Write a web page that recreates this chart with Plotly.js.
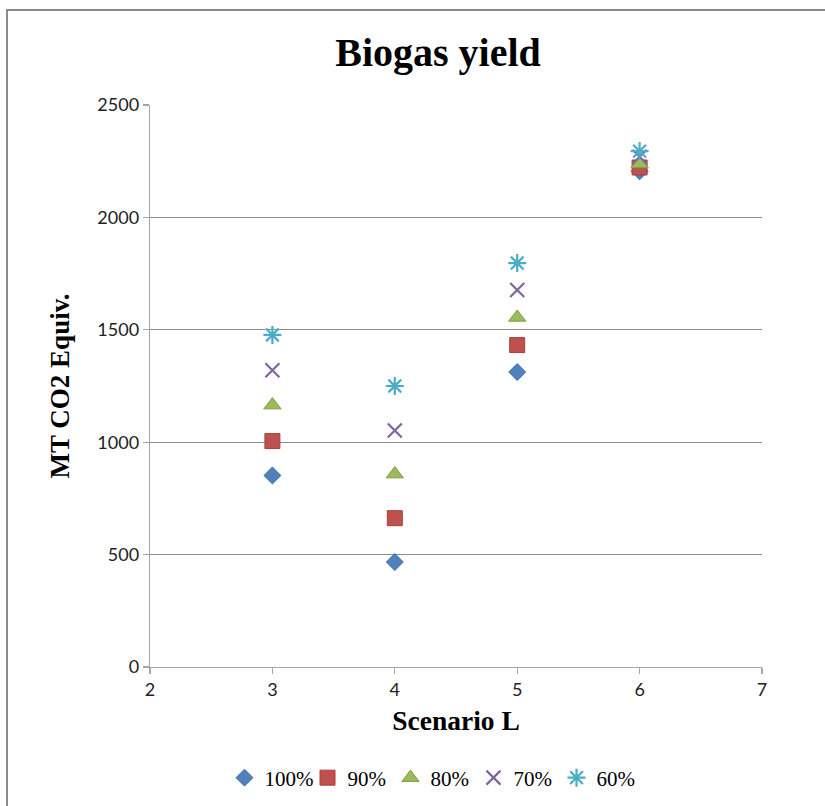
<!DOCTYPE html>
<html>
<head>
<meta charset="utf-8">
<script src="https://cdn.plot.ly/plotly-3.0.1.min.js"></script>
<style>
html,body{margin:0;padding:0;background:#fff;overflow:hidden;}
#frame{position:absolute;left:6px;top:9px;width:900px;height:900px;border:2px solid #8a8a8a;box-sizing:border-box;pointer-events:none;z-index:5;}
#chart{position:absolute;left:0;top:0;width:825px;height:806px;}
</style>
</head>
<body>
<div id="chart"></div>
<div id="frame"></div>
<script>
const scenarios = [3, 4, 5, 6];
const seriesNames = ['100%', '90%', '80%', '70%', '60%'];
const v100 = [852, 467, 1312, 2205];
const v90  = [1005, 662, 1432, 2222];
const v80  = [1165, 858, 1555, 2238];
const v70  = [1320, 1052, 1677, 2270];
const v60  = [1477, 1250, 1797, 2295];
const xTicks = [2, 3, 4, 5, 6, 7];
const yTicks = [0, 500, 1000, 1500, 2000, 2500];

const values = [v100, v90, v80, v70, v60];
const colors = ['#4F81BD', '#C0504D', '#9BBB59', '#8064A2', '#4BACC6'];
const lines  = ['#3A6BA5', '#A5403D', '#7F9E46', '#8064A2', '#4BACC6'];
const symbols = ['diamond', 'square', 'triangle-up', 'x-thin-open', 'asterisk-open'];
const sizes = [13, 15, 15, 14, 15];

const traces = values.map((v, i) => ({
  x: scenarios, y: v, name: seriesNames[i], type: 'scatter', mode: 'markers',
  marker: {symbol: symbols[i], size: sizes[i], color: colors[i],
           line: {color: (i >= 3 ? colors[i] : lines[i]), width: (i >= 3 ? 2.2 : 1)}}
}));

const layout = {
  width: 825, height: 806,
  margin: {l: 150, r: 63, t: 105, b: 139},
  paper_bgcolor: '#ffffff', plot_bgcolor: '#ffffff',
  showlegend: true,
  title: {text: 'Biogas yield', font: {family: 'Liberation Serif', size: 40, color: '#000', weight: 'bold'},
          x: 438/825, xref: 'container', xanchor: 'center', y: 1 - 52/806, yref: 'container', yanchor: 'middle'},
  xaxis: {range: [2, 7], tickvals: xTicks, ticktext: xTicks.map(String),
          showgrid: false, zeroline: false, showline: true, linecolor: '#a6a6a6', linewidth: 1.3,
          ticks: 'outside', ticklen: 6, tickcolor: '#a6a6a6', tickwidth: 1.3,
          tickfont: {family: 'Lato, Open Sans, sans-serif', size: 18, color: '#222'},
          title: {text: 'Scenario L', font: {family: 'Liberation Serif', size: 27.5, color: '#000', weight: 'bold'}, standoff: 11}},
  yaxis: {range: [0, 2500], tickvals: yTicks, ticktext: yTicks.map(String),
          showgrid: true, gridcolor: '#8c8c8c', gridwidth: 1, zeroline: false,
          showline: true, linecolor: '#a6a6a6', linewidth: 1.3,
          ticks: 'outside', ticklen: 6, tickcolor: '#a6a6a6', tickwidth: 1.3,
          tickfont: {family: 'Lato, Open Sans, sans-serif', size: 18, color: '#222'},
          title: {text: 'MT CO2 Equiv.', font: {family: 'Liberation Serif', size: 27, color: '#000', weight: 'bold'}, standoff: 20}},
  legend: {orientation: 'h', x: 432/825, xref: 'container', xanchor: 'center', y: 1 - 778/806, yref: 'container', yanchor: 'middle',
           font: {family: 'Liberation Serif', size: 21, color: '#000'}, entrywidth: 38, entrywidthmode: 'pixels',
           bgcolor: 'rgba(0,0,0,0)'}
};

Plotly.newPlot('chart', traces, layout, {displayModeBar: false, staticPlot: true});
</script>
</body>
</html>
